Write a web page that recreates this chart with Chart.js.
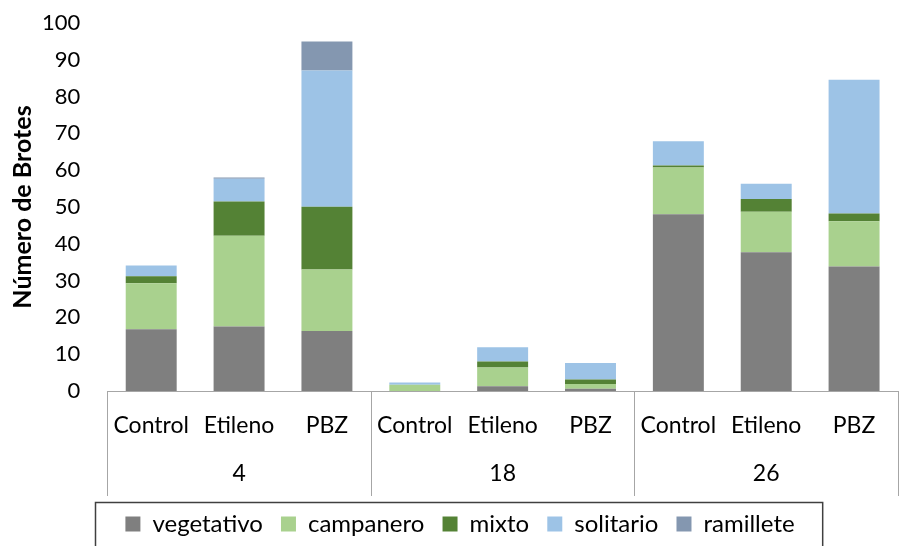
<!DOCTYPE html>
<html><head><meta charset="utf-8">
<script src="https://cdn.jsdelivr.net/npm/chart.js@4"></script>
<style>html,body{margin:0;padding:0;background:#fff}#wrap{width:908px;height:546px}</style>
</head><body><div id="wrap"><canvas id="c" width="908" height="546"></canvas></div>
<script>
const categories = ['Control','Etileno','PBZ','Control','Etileno','PBZ','Control','Etileno','PBZ'];
const groups = ['4','18','26'];
const yTicks = [0,10,20,30,40,50,60,70,80,90,100];
const vegetativo = [16.8,17.5,16.3, 0,1.3,0.6, 48.0,37.7,33.8];
const campanero  = [12.5,24.7,16.7, 1.7,5.1,1.3, 12.7,11.0,12.3];
const mixto      = [1.9,9.3,17.1, 0,1.6,1.2, 0.6,3.5,2.1];
const solitario  = [2.9,6.2,37.0, 0.6,3.9,4.5, 6.6,4.1,36.4];
const ramillete  = [0,0.3,7.9, 0,0,0, 0,0,0];

const FONT = 'Lato, "Open Sans", sans-serif';
const LEGEND_SHIFT = 8;

const sepPlugin = {
  id:'sep',
  beforeDraw(chart){
    const lg = chart.legend;
    if (lg && !lg._shifted) {
      const orig = lg.draw;
      lg.draw = function(){
        const c = this.ctx; c.save(); c.translate(LEGEND_SHIFT, 0);
        orig.apply(this, arguments); c.restore();
      };
      lg._shifted = true;
    }
  },
  afterDraw(chart){
    const ctx = chart.ctx, xs = chart.scales.x, x2 = chart.scales.x2, ca = chart.chartArea;
    ctx.save();
    ctx.strokeStyle = '#a6a6a6'; ctx.lineWidth = 1;
    const n = categories.length, per = n / groups.length;
    for (let g = 0; g <= groups.length; g++) {
      const i = g*per;
      let px;
      if (i === 0) px = ca.left;
      else if (i === n) px = ca.right;
      else px = (xs.getPixelForValue(i-1) + xs.getPixelForValue(i))/2;
      px = Math.round(px)+0.5;
      ctx.beginPath(); ctx.moveTo(px, ca.bottom); ctx.lineTo(px, x2.bottom - 4); ctx.stroke();
    }
    const lg = chart.legend;
    if (lg && lg.legendHitBoxes && lg.legendHitBoxes.length) {
      const hb = lg.legendHitBoxes;
      const l = Math.min(...hb.map(h=>h.left)) - 30 + LEGEND_SHIFT;
      const r = Math.max(...hb.map(h=>h.left+h.width)) + 28 + LEGEND_SHIFT;
      const t = Math.min(...hb.map(h=>h.top)) - 10;
      ctx.strokeStyle = '#404040'; ctx.lineWidth = 1.5;
      ctx.strokeRect(Math.round(l)+0.5, Math.round(t)+0.5, r-l, 80);
    }
    ctx.restore();
  }
};

new Chart(document.getElementById('c'), {
  type:'bar',
  data:{
    labels: categories,
    datasets:[
      {label:'vegetativo', data:vegetativo, backgroundColor:'#7f7f7f'},
      {label:'campanero', data:campanero, backgroundColor:'#a9d18e'},
      {label:'mixto', data:mixto, backgroundColor:'#548235'},
      {label:'solitario', data:solitario, backgroundColor:'#9dc3e6'},
      {label:'ramillete', data:ramillete, backgroundColor:'#8497b0'}
    ]
  },
  options:{
    responsive:false, animation:false,
    layout:{padding:{top:0,right:10,left:6,bottom:0}},
    datasets:{bar:{categoryPercentage:1, barPercentage:0.58}},
    plugins:{
      tooltip:{enabled:false},
      legend:{position:'bottom', labels:{boxWidth:15, boxHeight:15, padding:12, color:'#000', font:{family:FONT,size:24},
        generateLabels(chart){
          const items = Chart.defaults.plugins.legend.labels.generateLabels(chart);
          items.forEach((it, i) => { if (i < items.length - 1) it.text = it.text + ' '; });
          return items;
        }}}
    },
    scales:{
      x:{stacked:true, weight:0, grid:{display:false, drawTicks:false}, border:{display:true,color:'#a6a6a6'},
         afterFit(s){ s.height = 48.6; },
         ticks:{color:'#000', font:{family:FONT,size:23}, padding:21, maxRotation:0, autoSkip:false}},
      x2:{type:'category', labels:groups, position:'bottom', weight:1, offset:true,
          grid:{display:false, drawTicks:false}, border:{display:false},
          afterFit(s){ s.height = 60.4; },
          ticks:{color:'#000', font:{family:FONT,size:23}, padding:20}},
      y:{stacked:true, min:0, max:100, grid:{display:false, drawTicks:false}, border:{display:false},
         afterBuildTicks(s){ s.ticks = yTicks.map(v=>({value:v})); },
         afterFit(s){ s.width -= 27; s.paddingTop = 23; },
         ticks:{color:'#000', font:{family:FONT,size:22}, padding:27},
         title:{display:true, text:'Número de Brotes', color:'#000', font:{family:FONT,size:25,weight:'bold'}, padding:{top:2,bottom:4}}}
    }
  },
  plugins:[sepPlugin]
});
</script></body></html>
